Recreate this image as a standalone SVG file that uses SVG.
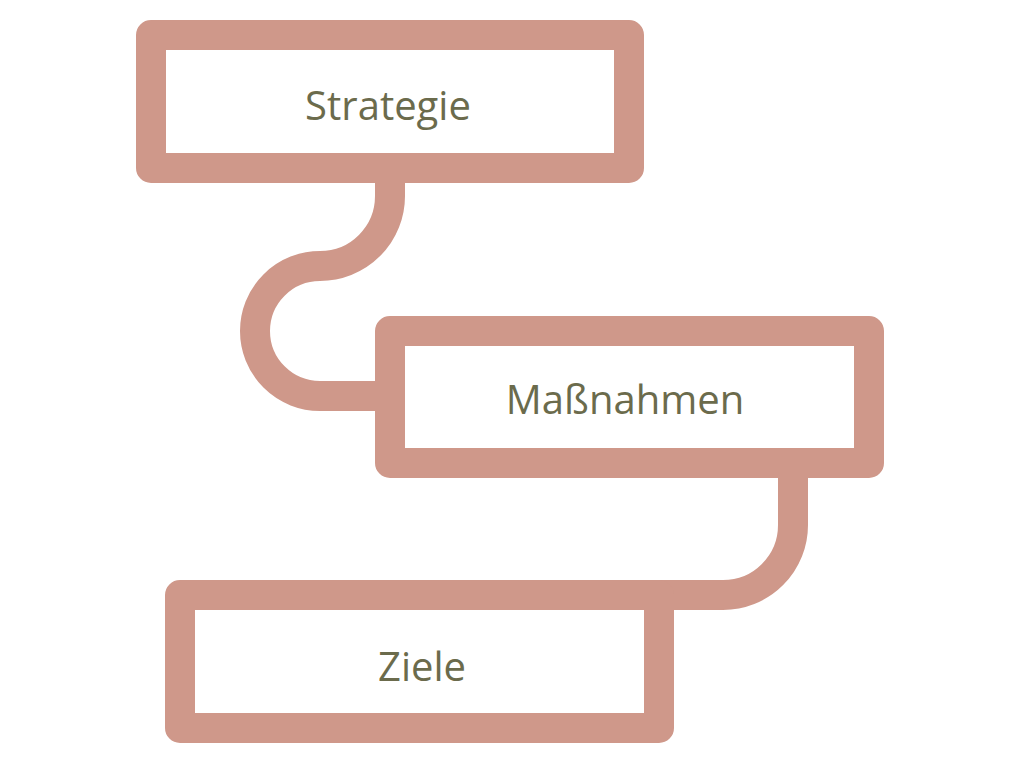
<svg xmlns="http://www.w3.org/2000/svg" width="1024" height="768" viewBox="0 0 1024 768">
<style>
.box{fill:#fff;stroke:#cf988a;stroke-width:30;stroke-linejoin:round}
.con{fill:none;stroke:#cf988a;stroke-width:30}
.t{font-family:"Open Sans","Liberation Sans",sans-serif;font-size:40px;fill:#6b6b4c;text-anchor:middle;dominant-baseline:central}
</style>
<rect width="1024" height="768" fill="#fff"/>
<g id="connectors">
<path class="con" d="M390,168 V196 A70,70 0 0 1 320,266 A65,65 0 0 0 320,396 H390"/>
<path class="con" d="M793,463 V525 A70,70 0 0 1 723,595 H659"/>
</g>
<g id="strategie"><rect class="box" x="151" y="35" width="478" height="133"/><text class="t" x="388" y="104">Strategie</text></g>
<g id="massnahmen"><rect class="box" x="390" y="331" width="479" height="132"/><text class="t" x="625" y="398">Maßnahmen</text></g>
<g id="ziele"><rect class="box" x="180" y="595" width="479" height="133"/><text class="t" x="422" y="665">Ziele</text></g>
</svg>
